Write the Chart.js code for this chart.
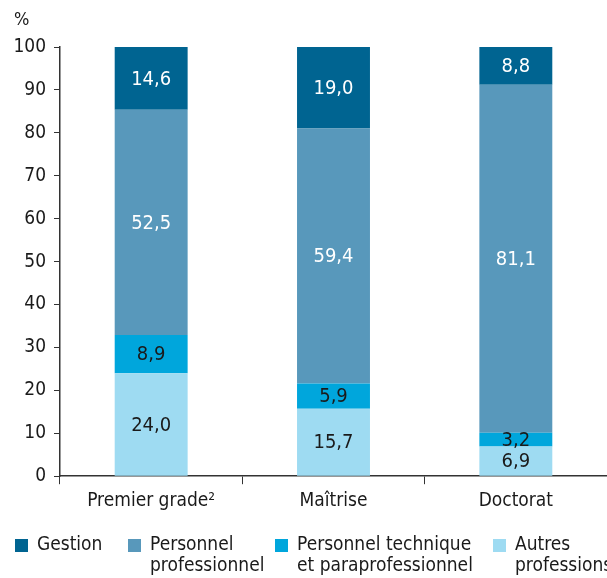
<!DOCTYPE html>
<html>
<head>
<meta charset="utf-8">
<script src="https://cdn.jsdelivr.net/npm/chart.js@4"></script>
<style>
  body { margin: 0; background: #fff; }
  #wrap { position: relative; width: 607px; height: 578px; }
  #legend { position: absolute; left: 0; top: 533px; width: 607px; font-family: "Liberation Sans Narrow", "DejaVu Sans Condensed", "Roboto", sans-serif; font-size: 19px; color: #1a1a1a; line-height: 21px; }
  .item { position: absolute; top: 0; }
  .sw { position: absolute; left: 0; top: 6px; width: 13px; height: 13px; }
  .txt { position: absolute; left: 22px; top: 0; white-space: nowrap; }
</style>
</head>
<body>
<div id="wrap">
  <canvas id="chart" width="607" height="578"></canvas>
  <div id="legend"></div>
</div>
<script>
const FONT = '"Liberation Sans Narrow", "DejaVu Sans Condensed", Roboto, sans-serif';

// categories
const categories = ['Premier grade\u00B2', 'Maîtrise', 'Doctorat'];

// series (bottom to top)
const autresProfessions = [24.0, 15.7, 6.9];
const personnelTechnique = [8.9, 5.9, 3.2];
const personnelProfessionnel = [52.5, 59.4, 81.1];
const gestion = [14.6, 19.0, 8.8];

const yTicks = [0, 10, 20, 30, 40, 50, 60, 70, 80, 90, 100];

const seriesDefs = [
  { label: 'Autres professions', legend: ['Autres', 'professions'], data: autresProfessions, color: '#9edbf2', text: '#1a1a1a' },
  { label: 'Personnel technique et paraprofessionnel', legend: ['Personnel technique', 'et paraprofessionnel'], data: personnelTechnique, color: '#00a6dc', text: '#1a1a1a' },
  { label: 'Personnel professionnel', legend: ['Personnel', 'professionnel'], data: personnelProfessionnel, color: '#5898bb', text: '#ffffff' },
  { label: 'Gestion', legend: ['Gestion'], data: gestion, color: '#006491', text: '#ffffff' }
];

// custom legend, order as in the picture
const legendOrder = [3, 2, 1, 0];
const legendX = [15, 128, 275, 493];
const legendEl = document.getElementById('legend');
legendOrder.forEach((idx, i) => {
  const s = seriesDefs[idx];
  const item = document.createElement('div');
  item.className = 'item';
  item.style.left = legendX[i] + 'px';
  item.innerHTML = '<div class="sw" style="background:' + s.color + '"></div><div class="txt">' + s.legend.join('<br>') + '</div>';
  legendEl.appendChild(item);
});

const valueLabels = {
  id: 'valueLabels',
  afterDatasetsDraw(chart) {
    const ctx = chart.ctx;
    ctx.save();
    ctx.font = '20px ' + FONT;
    ctx.textAlign = 'center';
    ctx.textBaseline = 'middle';
    chart.data.datasets.forEach((ds, di) => {
      const meta = chart.getDatasetMeta(di);
      meta.data.forEach((bar, i) => {
        const v = ds.data[i];
        const y = (bar.y + bar.base) / 2;
        ctx.fillStyle = seriesDefs[di].text;
        ctx.fillText(v.toFixed(1).replace('.', ','), bar.x, y + 1);
      });
    });
    ctx.restore();
  }
};

const percentLabel = {
  id: 'percentLabel',
  afterDraw(chart) {
    const ctx = chart.ctx;
    ctx.save();
    ctx.font = '18px ' + FONT;
    ctx.fillStyle = '#1a1a1a';
    ctx.textAlign = 'left';
    ctx.textBaseline = 'middle';
    ctx.fillText('%', 14, 20);
    ctx.restore();
  }
};

new Chart(document.getElementById('chart'), {
  type: 'bar',
  data: {
    labels: categories,
    datasets: seriesDefs.map(s => ({
      label: s.label,
      data: s.data,
      backgroundColor: s.color,
      borderWidth: 0,
      categoryPercentage: 1,
      barPercentage: 0.4
    }))
  },
  options: {
    responsive: false,
    animation: false,
    layout: { padding: { top: 47, right: 0, bottom: 61, left: 0 } },
    plugins: {
      legend: { display: false },
      tooltip: { enabled: false }
    },
    scales: {
      x: {
        stacked: true,
        grid: { drawOnChartArea: false, drawTicks: true, tickLength: 8, color: '#333', offset: true },
        border: { color: '#333', width: 1.5 },
        ticks: { color: '#1a1a1a', font: { family: FONT, size: 19 }, padding: 5 }
      },
      y: {
        stacked: true,
        min: 0,
        max: 100,
        afterFit(scale) { scale.width = 60; },
        afterBuildTicks(scale) { scale.ticks = yTicks.map(v => ({ value: v })); },
        grid: { drawOnChartArea: false, drawTicks: true, tickLength: 6, color: '#333' },
        border: { color: '#333', width: 1.5 },
        ticks: { color: '#1a1a1a', font: { family: FONT, size: 19 }, padding: 8 }
      }
    }
  },
  plugins: [valueLabels, percentLabel]
});
</script>
</body>
</html>
